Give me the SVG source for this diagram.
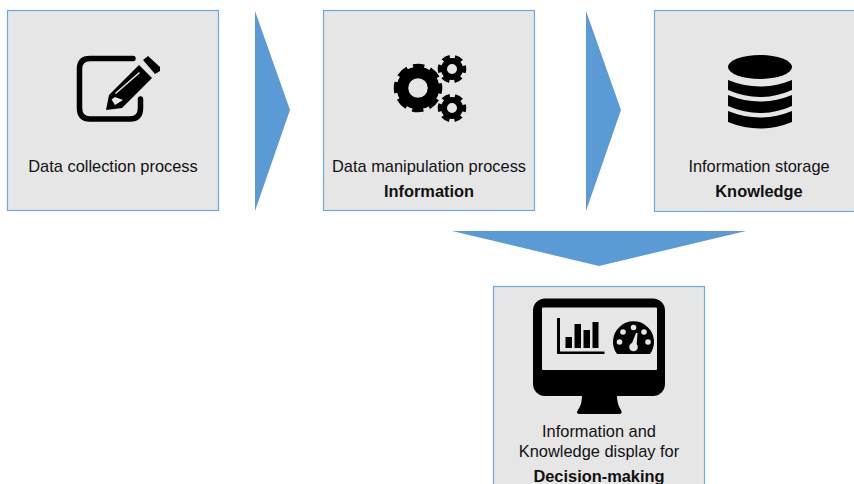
<svg xmlns="http://www.w3.org/2000/svg" width="854" height="484" viewBox="0 0 854 484">
<style>
.box{fill:#e6e6e6;stroke:#6fa8dc;stroke-width:1.2}
.arrow{fill:#5b9bd5}
text{font-family:"Liberation Sans",Arial,sans-serif;font-size:16.4px;fill:#111;text-anchor:middle}
.b{font-weight:bold}
.k{fill:#000}
.w{fill:#e6e6e6}
</style>
<rect width="854" height="484" fill="#fff"/>
<g id="connectors">
<polygon class="arrow" points="255,11 290,110 255,211"/>
<polygon class="arrow" points="586,11 621,110 586,211"/>
<polygon class="arrow" points="452,231 746,231 599,266"/>
</g>
<g id="node-collection">
<rect class="box" x="7.500" y="10.500" width="211" height="200"/>
<path d="M133 58.500H90Q79.500 58.500 79.500 69V108Q79.500 119 90 119H130Q140.500 119 140.500 108V99" fill="none" stroke="#000" stroke-width="5.500" stroke-linecap="round"/>
<polygon class="k" points="106,110 109,95 139,65 152,78 122,108"/>
<polygon class="k" points="143,60 148,56 160,67 160,71 155,74"/>
<polygon class="w" points="115,93 139,72 140,73 116,94"/>
<polygon class="w" points="111.500,99.500 115,97 123,100 115,105"/>
<text x="113" y="171.500">Data collection process</text>
</g>
<g id="node-manipulation">
<rect class="box" x="323.500" y="10.500" width="211" height="200"/>
<g fill="none" stroke="#000">
<circle cx="418" cy="88" r="15.500" stroke-width="11.500"/>
<circle cx="418" cy="88" r="21.500" stroke-width="5.500" stroke-dasharray="11 5.890" stroke-dashoffset="5.500"/>
<circle cx="452" cy="69" r="8" stroke-width="6"/>
<circle cx="452" cy="69" r="12" stroke-width="4.500" stroke-dasharray="7.500 5.070" stroke-dashoffset="3.750"/>
<circle cx="452" cy="108" r="8" stroke-width="6"/>
<circle cx="452" cy="108" r="12" stroke-width="4.500" stroke-dasharray="7.500 5.070" stroke-dashoffset="3.750"/>
</g>
<text x="429" y="171.500">Data manipulation process</text>
<text class="b" x="429" y="196.500">Information</text>
</g>
<g id="node-storage">
<rect class="box" x="654.500" y="10.500" width="210" height="201"/>
<ellipse class="k" cx="760" cy="67" rx="32" ry="12"/>
<path class="k" d="M728 80Q760 93 792 80V90Q760 104 728 90Z"/>
<path class="k" d="M728 95Q760 108 792 95V106Q760 120 728 106Z"/>
<path class="k" d="M728 111Q760 124 792 111V122Q760 135 728 122Z"/>
<text x="759" y="171.500">Information storage</text>
<text class="b" x="759" y="196.500">Knowledge</text>
</g>
<g id="node-display">
<rect class="box" x="493.500" y="286.500" width="211" height="210"/>
<path class="k" d="M582 395H617C617 403 619 407 621 410Q623 414 619 414H580Q575 414 578 410C580 407 582 403 582 395Z"/>
<rect class="k" x="533" y="298.500" width="132" height="97.500" rx="12"/>
<rect class="w" x="542" y="307.500" width="115" height="62.500" rx="1"/>
<path class="k" d="M557 318H560V351.500H604.500V354H557Z"/>
<rect class="k" x="565.500" y="337" width="6.500" height="11"/>
<rect class="k" x="574.500" y="324" width="6.500" height="24"/>
<rect class="k" x="583.500" y="330" width="6.500" height="18"/>
<rect class="k" x="592.500" y="322" width="6" height="26"/>
<path class="k" d="M617 354A20.500 20.500 0 1 1 650 354Z"/>
<g class="w">
<circle cx="619.500" cy="342" r="2.800"/>
<circle cx="623" cy="332" r="2.800"/>
<circle cx="633.500" cy="327.500" r="2.800"/>
<circle cx="644" cy="332" r="2.800"/>
<circle cx="648" cy="342" r="2.800"/>
<circle cx="633.500" cy="347" r="4.300"/>
<polygon points="630.500,347 636.500,347 637.500,333 636,333"/>
</g>
<text x="599" y="436.500">Information and</text>
<text x="599" y="456.500">Knowledge display for</text>
<text class="b" x="599" y="481.500">Decision-making</text>
</g>
</svg>
